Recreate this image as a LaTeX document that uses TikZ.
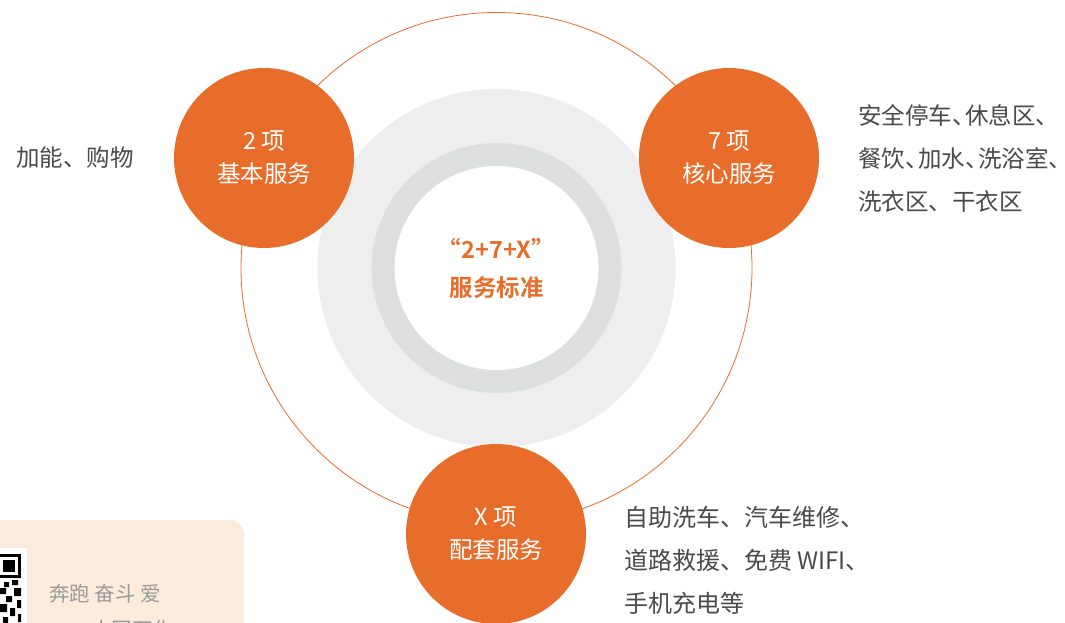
\documentclass[tikz,border=0pt]{standalone}
\usepackage{fontspec}
\setmainfont{Noto Sans CJK SC}
\newfontfamily\cjkbold{Noto Sans CJK SC Bold}
\definecolor{orng}{HTML}{E86C2A}
\definecolor{txtgray}{HTML}{4A4A4A}
\definecolor{ltgray}{HTML}{EEEEEE}
\definecolor{ringgray}{HTML}{DDDFDE}
\definecolor{cardbg}{HTML}{FBEBDD}
\definecolor{cardtxt}{HTML}{9A9A9A}
\newcommand{\hdun}{、\kern-0.45em}
\begin{document}
\begin{tikzpicture}[x=1pt,y=-1pt,
  svc/.style={circle,fill=orng,minimum size=180pt,inner sep=0pt,text=white,align=center,font=\fontsize{23.5}{33}\selectfont},
  desc/.style={anchor=west,align=left,inner sep=0pt,text=txtgray,font=\fontsize{23.5}{43}\selectfont},
  card/.style={text=cardtxt,anchor=west,inner sep=0pt,font=\fontsize{20.5}{22}\selectfont}]
\useasboundingbox (0,0) rectangle (1065,623);
\fill[white] (0,0) rectangle (1065,623);
% background rings
\draw[orng,line width=0.8pt] (496.5,268) circle[radius=255.5];
\node[circle,fill=ltgray,minimum size=358pt,inner sep=0pt] (bg) at (496.5,268) {};
\node[circle,fill=ringgray,minimum size=250pt,inner sep=0pt] (ring) at (496.5,268) {};
\node[circle,fill=white,minimum size=204pt,inner sep=0pt,text=orng,align=center,font=\cjkbold\fontsize{23.5}{38}\selectfont] (core) at (496.5,268) {“2+7+X”\\服务标准};
% service circles
\node[svc] (basic) at (264,158) {2 项\\基本服务};
\node[svc] (core7) at (729,158) {7 项\\核心服务};
\node[svc] (extra) at (496,534) {X 项\\配套服务};
% descriptions
\node[desc] (d1) at (16,158) {加能、购物};
\node[desc] (d2) at (858,158) {安全停车\hdun 休息区\hdun\\餐饮\hdun 加水\hdun 洗浴室\hdun\\洗衣区、干衣区};
\node[desc,font=\fontsize{24}{43}\selectfont] (d3) at (624,560) {自助洗车、汽车维修、\\道路救援、免费 WIFI、\\手机充电等};
% overlay card
\fill[cardbg,rounded corners=14pt] (-20,520) rectangle (244,660);
\fill[white] (-5,548) rectangle (27,640);
\fill[black] (-3,554) rectangle (21,578);
\fill[white] (0,557) rectangle (18,575);
\fill[black] (3,560) rectangle (15,572);
\fill[black] (4,582) rectangle (9,587) (12,580) rectangle (18,585) (0,588) rectangle (6,594)
  (14,588) rectangle (21,596) (6,596) rectangle (12,602) (17,600) rectangle (21,608)
  (0,604) rectangle (7,612) (10,608) rectangle (15,616) (18,614) rectangle (21,622)
  (3,617) rectangle (8,623);
\node[card] (c1) at (49,594) {奔跑 奋斗 爱};
\node[card] (c2) at (91,630) {中国石化};
\end{tikzpicture}
\end{document}
